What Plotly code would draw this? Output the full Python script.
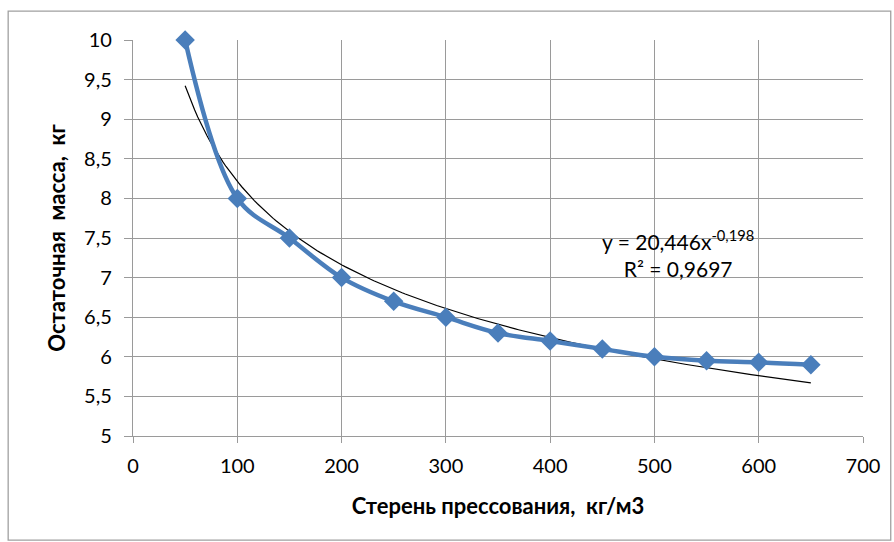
import numpy as np
import plotly.graph_objects as go

x_vals = [50, 100, 150, 200, 250, 300, 350, 400, 450, 500, 550, 600, 650]
y_vals = [10.0, 8.0, 7.5, 7.0, 6.7, 6.5, 6.3, 6.2, 6.1, 6.0, 5.95, 5.93, 5.9]
trend_a = 20.446
trend_b = -0.198
x_ticks = [0, 100, 200, 300, 400, 500, 600, 700]
y_ticks = [5, 5.5, 6, 6.5, 7, 7.5, 8, 8.5, 9, 9.5, 10]
y_ticktext = [str(v).replace('.', ',') if v != int(v) else str(int(v)) for v in y_ticks]

tx = np.linspace(min(x_vals), max(x_vals), 200)
ty = trend_a * tx ** trend_b

fig = go.Figure()
fig.add_trace(go.Scatter(x=tx, y=ty, mode='lines', line=dict(color='black', width=1.2),
                         showlegend=False, hoverinfo='skip'))
fig.add_trace(go.Scatter(x=x_vals, y=y_vals, mode='lines+markers', line_shape='spline',
                         line=dict(color='#4A7EBB', width=4.5), cliponaxis=False,
                         marker=dict(symbol='diamond', size=15, color='#4A7EBB'),
                         showlegend=False))

grid = '#9A9A9A'
fig.update_layout(
    width=894, height=542,
    margin=dict(l=133, r=31, t=40, b=106),
    paper_bgcolor='white', plot_bgcolor='white',
    font=dict(family='Lato', size=20, color='black'),
    xaxis=dict(range=[0, 700], tickvals=x_ticks, showgrid=True, gridcolor=grid, gridwidth=1.3,
               zeroline=False, showline=True, linecolor=grid, linewidth=1.3,
               ticks='outside', ticklen=6, tickcolor=grid, tickwidth=1.3, ticklabelstandoff=6,
               title=dict(text='<b>Стерень прессования,&nbsp;&nbsp;кг/м3</b>', font=dict(size=22), standoff=22)),
    yaxis=dict(range=[5, 10], tickvals=y_ticks, ticktext=y_ticktext, showgrid=True, gridcolor=grid,
               gridwidth=1.3, zeroline=False, showline=True, linecolor=grid, linewidth=1.3,
               ticks='outside', ticklen=8, tickcolor=grid, tickwidth=1.3, ticklabelstandoff=8,
               title=dict(text='<b>Остаточная&nbsp;&nbsp;масса,&nbsp;&nbsp;кг</b>', font=dict(size=22), standoff=12)),
    shapes=[dict(type='rect', xref='paper', yref='paper', x0=-0.171, x1=1.038, y0=-0.263, y1=1.073,
                 line=dict(color='#A0A0A0', width=1.3), fillcolor='rgba(0,0,0,0)', layer='below')],
    annotations=[dict(x=0.747, y=0.462, xref='paper', yref='paper', showarrow=False, align='center',
                      xanchor='center', yanchor='middle',
                      text='y = 20,446x<sup>-0,198</sup><br>R² = 0,9697', font=dict(size=21))],
)

fig.write_html('out.html')
